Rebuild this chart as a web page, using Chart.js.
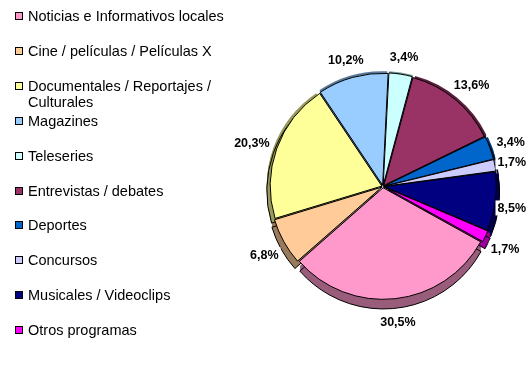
<!DOCTYPE html>
<html>
<head>
<meta charset="utf-8">
<script src="https://cdn.jsdelivr.net/npm/chart.js@4/dist/chart.umd.min.js"></script>
<style>
  html, body { margin:0; padding:0; background:#fff; }
  #wrap { position:relative; width:530px; height:365px; overflow:hidden; }
  #chart { position:absolute; left:0; top:0; }
  #legend { position:absolute; left:0; top:0; font-family: Arial, "Liberation Sans", sans-serif; font-size:14.5px; color:#000; }
  .item { position:absolute; left:15px; display:flex; align-items:flex-start; line-height:16px; }
  .box { width:6px; height:6px; border:1px solid #000; margin-top:4px; margin-right:5px; flex:none; }
  .txt { width:225px; }
</style>
</head>
<body>
<div id="wrap">
  <canvas id="chart" width="530" height="365"></canvas>
  <div id="legend"></div>
</div>
<script>
const categories = [
  'Noticias e Informativos locales',
  'Cine / películas / Películas X',
  'Documentales / Reportajes / Culturales',
  'Magazines',
  'Teleseries',
  'Entrevistas / debates',
  'Deportes',
  'Concursos',
  'Musicales / Videoclips',
  'Otros programas'
];
const shares = [30.5, 6.8, 20.3, 10.2, 3.4, 13.6, 3.4, 1.7, 8.5, 1.7];
const colors = ['#FF99CC','#FFCC99','#FFFF99','#99CCFF','#CCFFFF','#993366','#0066CC','#CCCCFF','#000080','#FF00FF'];

const $ = (id) => document.getElementById(id);

function darker(hex, f){
  const n = parseInt(hex.slice(1), 16);
  const r = Math.round(((n >> 16) & 255) * f), g = Math.round(((n >> 8) & 255) * f), b = Math.round((n & 255) * f);
  return `rgb(${r},${g},${b})`;
}

function arcPath(ctx, a, dx, dy){
  const p = a.getProps(['x','y','startAngle','endAngle','outerRadius']);
  const mid = (p.startAngle + p.endAngle) / 2;
  const off = a.options.offset || 0;
  const cx = p.x + Math.cos(mid) * off + dx, cy = p.y + Math.sin(mid) * off + dy;
  ctx.beginPath();
  ctx.moveTo(cx, cy);
  ctx.arc(cx, cy, p.outerRadius, p.startAngle, p.endAngle);
  ctx.closePath();
}

// draws the thick side of each slice so the pie looks like the 3D Excel one
const depthPlugin = {
  id: 'depth',
  beforeDatasetsDraw(chart){
    const ctx = chart.ctx;
    const arcs = chart.getDatasetMeta(0).data;
    const depth = 6;
    ctx.save();
    arcs.forEach((a, i) => {
      ctx.fillStyle = darker(colors[i], 0.6);
      for(let d = 1; d <= depth; d++){ arcPath(ctx, a, 0, d); ctx.fill(); }
      arcPath(ctx, a, 0, depth);
      ctx.strokeStyle = '#000';
      ctx.lineWidth = 1;
      ctx.stroke();
    });
    ctx.restore();
  }
};

const labelPlugin = {
  id: 'pctLabels',
  afterDatasetsDraw(chart){
    const ctx = chart.ctx;
    const arcs = chart.getDatasetMeta(0).data;
    ctx.save();
    ctx.font = 'bold 12.5px Arial, "Liberation Sans", sans-serif';
    ctx.textAlign = 'center';
    ctx.textBaseline = 'middle';
    arcs.forEach((a, i) => {
      const p = a.getProps(['x','y','startAngle','endAngle','outerRadius']);
      const mid = (p.startAngle + p.endAngle) / 2;
      const txt = shares[i].toFixed(1).replace('.', ',') + '%';
      const w = ctx.measureText(txt).width + 4, h = 15;
      const r = p.outerRadius + (a.options.offset || 0) + 3;
      let cx = p.x + Math.cos(mid) * (r + w / 2);
      const cy = p.y + Math.sin(mid) * (r + h / 2 + 5) + (Math.sin(mid) > 0 ? 4 : 0);
      cx = Math.min(cx, chart.width - 2 - w / 2);
      ctx.fillStyle = '#fff';
      ctx.fillRect(cx - w / 2, cy - h / 2, w, h);
      ctx.fillStyle = '#000';
      ctx.fillText(txt, cx, cy + 1);
    });
    ctx.restore();
  }
};

function buildLegend(){
  $('legend').innerHTML = categories.map((c, i) => `
    <div class="item" style="top:${8 + i * 34.9}px">
      <span class="box" style="background:${colors[i]}"></span><span class="txt">${c}</span>
    </div>`).join('');
}

buildLegend();
new Chart($('chart'), {
  type: 'pie',
  data: {
    labels: categories,
    datasets: [{
      data: shares,
      backgroundColor: colors,
      borderColor: '#000',
      borderWidth: 1,
      offset: 5,
      radius: 111.5
    }]
  },
  options: {
    responsive: false,
    animation: false,
    rotation: 119,
    layout: { padding: { left: 266, right: 30, top: 68, bottom: 60 } },
    plugins: { legend: { display: false }, tooltip: { enabled: false } }
  },
  plugins: [depthPlugin, labelPlugin]
});
</script>
</body>
</html>
